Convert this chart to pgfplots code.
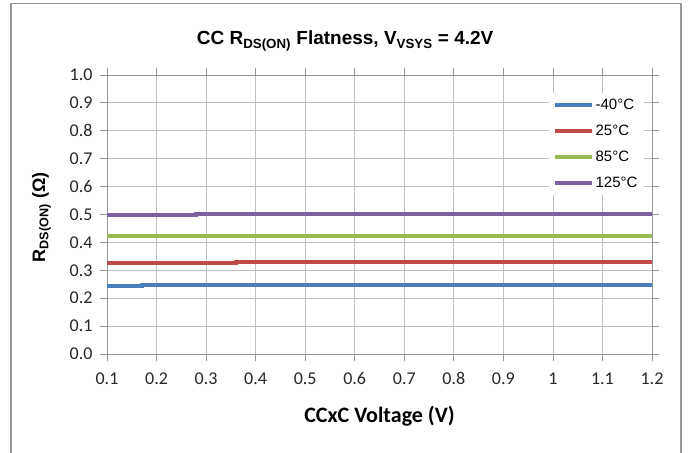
\documentclass[border=0pt]{standalone}
\usepackage{pgfplots}
\pgfplotsset{compat=1.18}
\usepackage{fontspec}
\setmainfont{Liberation Sans}
\newfontfamily\carlito{Carlito}

\definecolor{cblue}{HTML}{4A7EBB}
\definecolor{cred}{HTML}{BE4B48}
\definecolor{cgreen}{HTML}{98B954}
\definecolor{cpurple}{HTML}{7D60A0}
\definecolor{gridgray}{HTML}{BFBFBF}
\definecolor{axgray}{HTML}{969696}

\begin{document}
\begin{tikzpicture}
\path[use as bounding box] (0pt,0pt) rectangle (689pt,453pt);
\draw[axgray, line width=1.5pt] (11pt,-20pt) rectangle (681pt,449.5pt);
\begin{axis}[
    at={(107pt,99pt)}, anchor=south west,
    scale only axis,
    width=545pt, height=279pt,
    xmin=0.1, xmax=1.2,
    ymin=0, ymax=1,
    xtick={0.1,0.2,0.3,0.4,0.5,0.6,0.7,0.8,0.9,1,1.1,1.2},
    xticklabels={0.1,0.2,0.3,0.4,0.5,0.6,0.7,0.8,0.9,1,1.1,1.2},
    ytick={0,0.1,0.2,0.3,0.4,0.5,0.6,0.7,0.8,0.9,1},
    yticklabels={0.0,0.1,0.2,0.3,0.4,0.5,0.6,0.7,0.8,0.9,1.0},
    grid=major,
    major grid style={gridgray, line width=0.8pt},
    axis line style={axgray, line width=0.8pt},
    tick style={axgray, line width=0.8pt},
    tick align=outside,
    major tick length=7pt,
    tick label style={font=\carlito\fontsize{18}{18}\selectfont, text=black!85},
    xticklabel style={yshift=-8pt},
    yticklabel style={xshift=-4pt},
    title={CC R\textsubscript{DS(ON)} Flatness, V\textsubscript{VSYS} = 4.2V},
    title style={font=\bfseries\fontsize{19}{19}\selectfont, at={(axis description cs:0.437,1.10)}, anchor=center, yshift=0pt},
    xlabel={CCxC Voltage (V)},
    xlabel style={font=\carlito\bfseries\fontsize{22}{22}\selectfont, at={(axis description cs:0.5,-0.224)}, anchor=center},
    ylabel={R\textsubscript{DS(ON)} (Ω)},
    ylabel style={font=\bfseries\fontsize{18}{18}\selectfont, at={(axis description cs:-0.12,0.49)}, anchor=center},
    legend style={at={(axis description cs:0.81,0.935)}, anchor=north west, draw=none, fill=white,
        font=\fontsize{15}{15}\selectfont, row sep=10pt, inner sep=4pt},
    legend cell align=left,
    legend image code/.code={\draw[#1, line width=4pt] (0pt,0pt) -- (37pt,0pt);},
]
\addplot[cblue, line width=4pt] coordinates {
    (0.1,0.245)(0.17,0.245)(0.17,0.248)(0.2,0.248)(0.3,0.248)(0.4,0.248)(0.5,0.248)(0.6,0.248)
    (0.7,0.248)(0.8,0.248)(0.9,0.248)(1,0.248)(1.1,0.248)(1.2,0.248)};
\addplot[cred, line width=4pt] coordinates {
    (0.1,0.325)(0.2,0.325)(0.3,0.325)(0.36,0.325)(0.36,0.328)(0.4,0.328)(0.5,0.328)(0.6,0.328)
    (0.7,0.328)(0.8,0.328)(0.9,0.328)(1,0.328)(1.1,0.328)(1.2,0.328)};
\addplot[cgreen, line width=4pt] coordinates {
    (0.1,0.423)(0.2,0.423)(0.3,0.423)(0.4,0.423)(0.5,0.423)(0.6,0.423)
    (0.7,0.423)(0.8,0.423)(0.9,0.423)(1,0.423)(1.1,0.423)(1.2,0.423)};
\addplot[cpurple, line width=4pt] coordinates {
    (0.1,0.497)(0.2,0.497)(0.28,0.497)(0.28,0.500)(0.3,0.500)(0.4,0.500)(0.5,0.500)(0.6,0.500)
    (0.7,0.500)(0.8,0.500)(0.9,0.500)(1,0.500)(1.1,0.500)(1.2,0.500)};
\legend{-40°C,25°C,85°C,125°C}
\end{axis}
\end{tikzpicture}
\end{document}
